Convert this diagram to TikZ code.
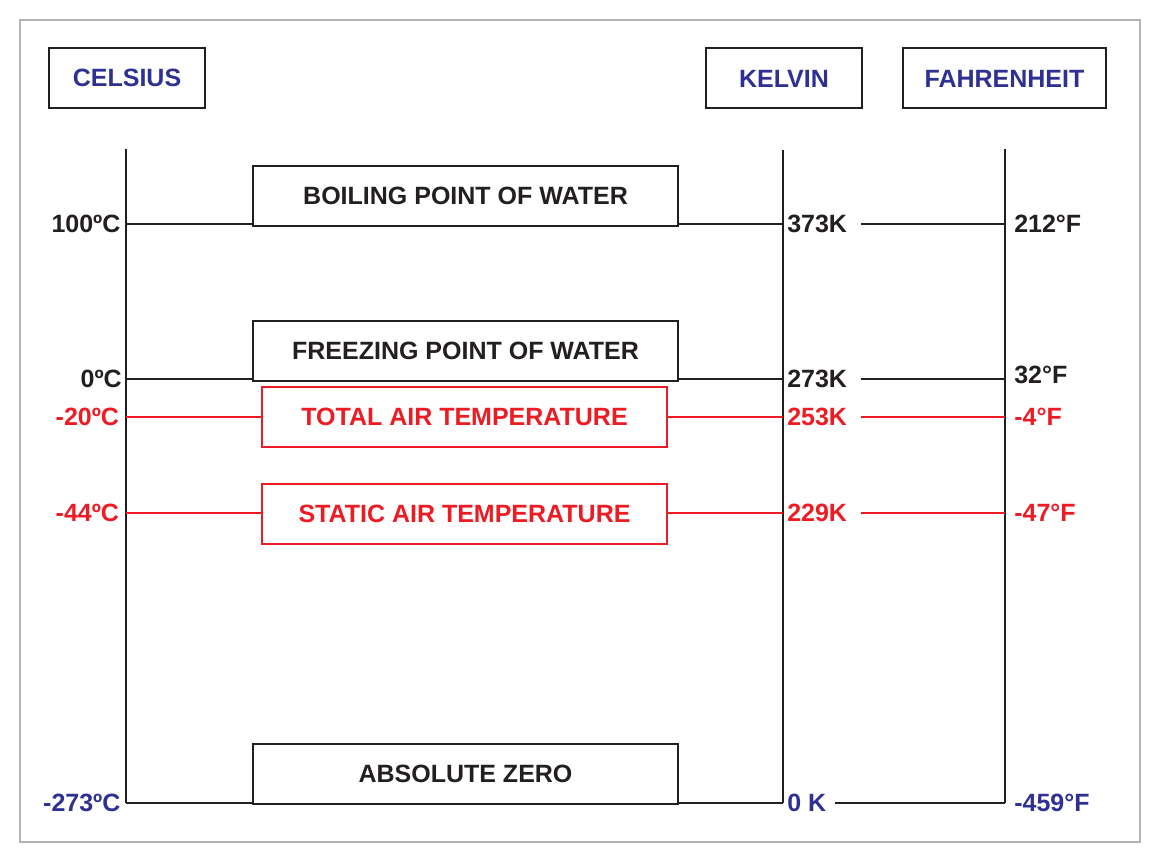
\documentclass[tikz,border=0pt]{standalone}
\usepackage{fontspec}
\setmainfont{Liberation Sans}
\usetikzlibrary{positioning, calc}
\definecolor{scaleblue}{HTML}{2E3192}
\definecolor{airred}{HTML}{ED1C24}
\definecolor{inkblack}{HTML}{231F20}
\definecolor{framegray}{HTML}{B3B3B3}

\begin{document}
\begin{tikzpicture}[x=0.75pt,y=-0.75pt,
    every node/.style={font=\fontsize{18.75}{22}\selectfont\bfseries},
    axis/.style={draw=inkblack,line width=1.5pt},
    level/.style={draw=inkblack,line width=1.5pt},
    airlevel/.style={draw=airred,line width=1.5pt},
    headbox/.style={draw=inkblack,line width=1.5pt,text=scaleblue,inner sep=0pt,minimum height=45pt},
    eventbox/.style={draw=inkblack,line width=1.5pt,text=inkblack,fill=white,inner sep=0pt,minimum width=318.75pt,minimum height=45pt},
    airbox/.style={draw=airred,line width=1.5pt,text=airred,fill=white,inner sep=0pt,minimum width=303.75pt,minimum height=45pt},
    reading/.style={inner sep=0pt,text=inkblack}]
  \useasboundingbox (0,0) rectangle (1160,863);
  \draw[framegray,line width=0.9pt] (20,20) rectangle (1140,842);

  % scale headings
  \node[headbox,minimum width=117pt] (celsius) at (127,78) {CELSIUS};
  \node[headbox,minimum width=117pt] (kelvin) at (784,78.5) {KELVIN};
  \node[headbox,minimum width=152.25pt] (fahrenheit) at (1004.5,78.5) {FAHRENHEIT};

  % the three scales
  \coordinate (ctop) at (126,149);
  \coordinate (ktop) at (783,150);
  \coordinate (ftop) at (1005,149);
  \coordinate (cboil) at (126,224);   \coordinate (kboil) at (783,224);   \coordinate (fboil) at (1005,224);
  \coordinate (cfreeze) at (126,379); \coordinate (kfreeze) at (783,379); \coordinate (ffreeze) at (1005,379);
  \coordinate (ctotal) at (126,417);  \coordinate (ktotal) at (783,417);  \coordinate (ftotal) at (1005,417);
  \coordinate (cstatic) at (126,513); \coordinate (kstatic) at (783,513); \coordinate (fstatic) at (1005,513);
  \coordinate (czero) at (126,803);   \coordinate (kzero) at (783,803);   \coordinate (fzero) at (1005,803);
  \draw[axis] (ctop) -- (czero);
  \draw[axis] (ktop) -- (kzero);
  \draw[axis] (ftop) -- (fzero);

  % fixed points and measured temperatures
  \node[eventbox] (boil) at (465.5,196) {BOILING POINT OF WATER};
  \node[eventbox] (freeze) at (465.5,351) {FREEZING POINT OF WATER};
  \node[airbox] (tat) at (464.5,417) {TOTAL AIR TEMPERATURE};
  \node[airbox] (sat) at (464.5,514) {STATIC AIR TEMPERATURE};
  \node[eventbox] (abszero) at (465.5,774) {ABSOLUTE ZERO};

  % readings
  \node[reading,anchor=east,xshift=-4pt] (cboiltxt) at (cboil) {100ºC};
  \node[reading,anchor=west,xshift=3pt] (kboiltxt) at (kboil) {373K};
  \node[reading,anchor=west,xshift=6.75pt] (fboiltxt) at (fboil) {212°F};
  \node[reading,anchor=east,xshift=-3pt] (cfreezetxt) at (cfreeze) {0ºC};
  \node[reading,anchor=west,xshift=3pt] (kfreezetxt) at (kfreeze) {273K};
  \node[reading,anchor=west,xshift=6.75pt,yshift=3pt] (ffreezetxt) at (ffreeze) {32°F};
  \node[reading,text=airred,anchor=east,xshift=-5pt] (ctotaltxt) at (ctotal) {-20ºC};
  \node[reading,text=airred,anchor=west,xshift=3pt] (ktotaltxt) at (ktotal) {253K};
  \node[reading,text=airred,anchor=west,xshift=6.75pt] (ftotaltxt) at (ftotal) {-4°F};
  \node[reading,text=airred,anchor=east,xshift=-5pt] (cstatictxt) at (cstatic) {-44ºC};
  \node[reading,text=airred,anchor=west,xshift=3pt] (kstatictxt) at (kstatic) {229K};
  \node[reading,text=airred,anchor=west,xshift=6.75pt] (fstatictxt) at (fstatic) {-47°F};
  \node[reading,text=scaleblue,anchor=east,xshift=-4pt] (czerotxt) at (czero) {-273ºC};
  \node[reading,text=scaleblue,anchor=west,xshift=3pt] (kzerotxt) at (kzero) {0 K};
  \node[reading,text=scaleblue,anchor=west,xshift=6.75pt] (fzerotxt) at (fzero) {-459°F};

  % level lines
  \draw[level] (cboil) -- (boil.west |- cboil);
  \draw[level] (boil.east |- kboil) -- (kboil);
  \draw[level] ([xshift=10.5pt]kboiltxt.east |- fboil) -- (fboil);
  \draw[level] (cfreeze) -- (freeze.west |- cfreeze);
  \draw[level] (freeze.east |- kfreeze) -- (kfreeze);
  \draw[level] ([xshift=10.5pt]kfreezetxt.east |- ffreeze) -- (ffreeze);
  \draw[airlevel] (ctotal) -- (tat.west);
  \draw[airlevel] (tat.east) -- (ktotal);
  \draw[airlevel] ([xshift=10.5pt]ktotaltxt.east |- ftotal) -- (ftotal);
  \draw[airlevel] (cstatic) -- (sat.west |- cstatic);
  \draw[airlevel] (sat.east |- kstatic) -- (kstatic);
  \draw[airlevel] ([xshift=10.5pt]kstatictxt.east |- fstatic) -- (fstatic);
  \draw[level] (czero) -- (abszero.west |- czero);
  \draw[level] (abszero.east |- kzero) -- (kzero);
  \draw[level] ([xshift=6.75pt]kzerotxt.east |- fzero) -- (fzero);
\end{tikzpicture}
\end{document}
